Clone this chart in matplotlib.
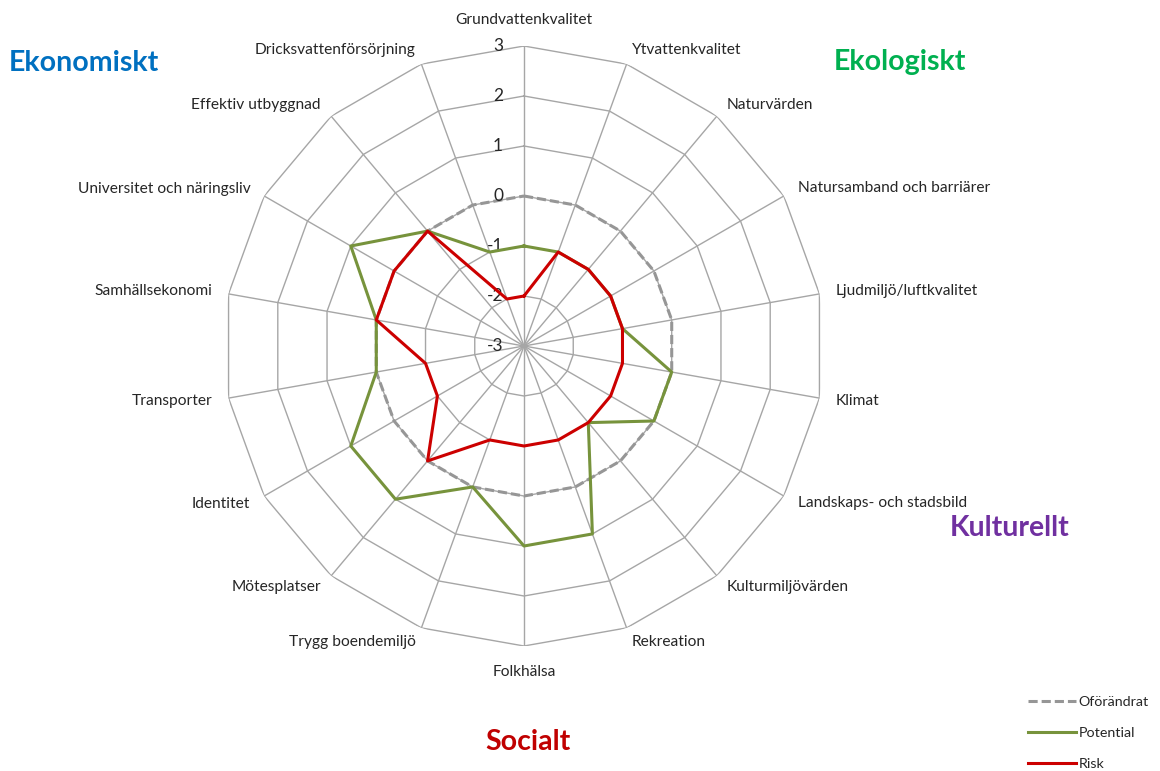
import numpy as np
import matplotlib
matplotlib.use("Agg")
import matplotlib.pyplot as plt

categories = [
    "Grundvattenkvalitet", "Ytvattenkvalitet", "Naturvärden",
    "Natursamband och barriärer", "Ljudmiljö/luftkvalitet", "Klimat",
    "Landskaps- och stadsbild", "Kulturmiljövärden", "Rekreation",
    "Folkhälsa", "Trygg boendemiljö", "Mötesplatser", "Identitet",
    "Transporter", "Samhällsekonomi", "Universitet och näringsliv",
    "Effektiv utbyggnad", "Dricksvattenförsörjning",
]
oforandrat = [0] * 18
potential = [-1, -1, -1, -1, -1, 0, 0, -1, 1, 1, 0, 1, 1, 0, 0, 1, 0, -1]
risk = [-2, -1, -1, -1, -1, -1, -1, -1, -1, -1, -1, 0, -1, -1, 0, 0, 0, -2]
ticks = [-3, -2, -1, 0, 1, 2, 3]
series_names = ["Oförändrat", "Potential", "Risk"]

regions = ["Ekonomiskt", "Ekologiskt", "Kulturellt", "Socialt"]
region_colors = ["#0070C0", "#00B050", "#7030A0", "#C00000"]

FONT = "Lato"
TXT = "#262626"
GRID = "#a6a6a6"

fig = plt.figure(figsize=(11.6, 7.71), dpi=100)
ax = fig.add_axes([224 / 1160, 125 / 771, 600 / 1160, 600 / 771], projection="polar")
ax.set_theta_offset(np.pi / 2)
ax.set_theta_direction(-1)
ax.set_ylim(-3, 3)
ax.set_xticks([])
ax.set_yticks([])
ax.grid(False)
ax.spines["polar"].set_visible(False)
ax.set_facecolor("none")

n = len(categories)
theta = np.linspace(0, 2 * np.pi, n, endpoint=False)
theta_c = np.append(theta, theta[0])

# polygon grid
for r in ticks[1:]:
    ax.plot(theta_c, [r] * (n + 1), color=GRID, lw=1.0, zorder=1)
for t in theta:
    ax.plot([t, t], [ticks[0], ticks[-1]], color=GRID, lw=1.0, zorder=1)


def closed(v):
    return list(v) + [v[0]]


l0, = ax.plot(theta_c, closed(oforandrat), color="#969696", lw=2.2,
              ls=(0, (3, 1.3)), zorder=3)
l1, = ax.plot(theta_c, closed(potential), color="#77933C", lw=2.2, zorder=4)
l2, = ax.plot(theta_c, closed(risk), color="#CC0000", lw=2.2, zorder=5)

# tick labels
for v in ticks:
    ax.annotate(str(v), xy=(0, v), xytext=(-21, 0), textcoords="offset pixels",
                ha="right", va="center", fontsize=12.5, family=FONT, color=TXT,
                annotation_clip=False)

# category labels
for t, lab in zip(theta, categories):
    s, c = np.sin(t), np.cos(t)
    dx = 16 * s
    dy = 15 * c
    if abs(s) < 0.1:
        ha = "center"
        dy += 11 * np.sign(c)
    elif s > 0:
        ha = "left"
    else:
        ha = "right"
    ax.annotate(lab, xy=(t, ticks[-1]), xytext=(dx, dy), textcoords="offset pixels",
                ha=ha, va="center", fontsize=11.2, family=FONT, color=TXT,
                annotation_clip=False)

# region labels
region_pos = [(84, 63), (900, 62), (1010, 528), (528, 742)]
for name, col, (px, py) in zip(regions, region_colors, region_pos):
    fig.text(px / 1160, 1 - py / 771, name, ha="center", va="center",
             fontsize=20.5, fontweight="bold", family=FONT, color=col)

fig.legend([l0, l1, l2], series_names, loc="upper left",
           bbox_to_anchor=(1024 / 1160, 1 - 692 / 771), frameon=False,
           handlelength=3.3, handletextpad=0.2, labelspacing=1.33,
           borderaxespad=0.0, borderpad=0.3,
           prop={"family": FONT, "size": 10.3}, labelcolor=TXT)

fig.savefig("out.png", dpi=100, facecolor="white")
